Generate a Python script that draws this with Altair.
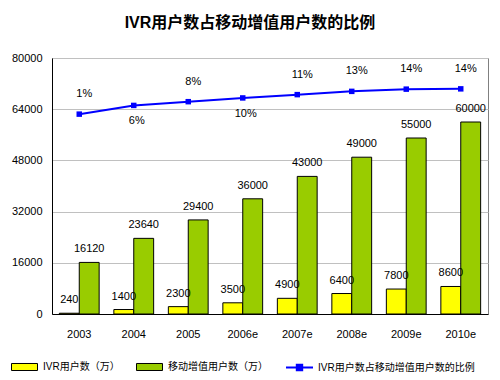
import altair as alt
import pandas as pd

years = ["2003", "2004", "2005", "2006e", "2007e", "2008e", "2009e", "2010e"]
ivr_users = [240, 1400, 2300, 3500, 4900, 6400, 7800, 8600]
mobile_users = [16120, 23640, 29400, 36000, 43000, 49000, 55000, 60000]
ivr_ratio = [0.0149, 0.0592, 0.0782, 0.0972, 0.114, 0.1306, 0.1418, 0.1433]
series_names = ["IVR用户数（万）", "移动增值用户数（万）"]
line_name = "IVR用户数占移动增值用户数的比例"
below_years = ["2004", "2006e"]
y_ticks = [0, 16000, 32000, 48000, 64000, 80000]

bars_df = pd.DataFrame({
    "year": years * 2,
    "series": [series_names[0]] * len(years) + [series_names[1]] * len(years),
    "value": ivr_users + mobile_users,
})
line_df = pd.DataFrame({"year": years, "ratio": ivr_ratio, "series": [line_name] * len(years)})

FONT = "Liberation Sans, Noto Sans CJK SC, sans-serif"

x_scale = alt.Scale(paddingInner=0.27, paddingOuter=0.135)
x_enc = alt.X(
    "year:N", sort=years, title=None, scale=x_scale,
    axis=alt.Axis(labelAngle=0, ticks=False, labelPadding=14, domainColor="black",
                  labelFontSize=11, labelColor="black", labelFont=FONT),
)
x_plain = alt.X("year:N", sort=years, title=None, scale=x_scale)

y_scale = alt.Scale(domain=[0, 80000], nice=False)
y_bar = alt.Y(
    "value:Q", title=None, scale=y_scale,
    axis=alt.Axis(values=y_ticks, ticks=False, labelPadding=10, gridColor="#C0C0C0",
                  domainColor="black", labelFontSize=11, labelColor="black",
                  format="d", labelFont=FONT),
)
y_bar_plain = alt.Y("value:Q", title=None, scale=y_scale)
x_off = alt.XOffset("series:N", sort=series_names, scale=alt.Scale(paddingInner=0, paddingOuter=0))

bars = alt.Chart(bars_df).mark_bar(stroke="black", strokeWidth=1).encode(
    x=x_enc,
    xOffset=x_off,
    y=y_bar,
    fill=alt.Fill(
        "series:N", sort=series_names,
        scale=alt.Scale(domain=series_names, range=["#FFFF00", "#99CC00"]),
        legend=alt.Legend(
            title=None, orient="none", legendX=-41, legendY=295, direction="horizontal",
            symbolType="M-1,-0.27H1V0.27H-1Z", symbolSize=676,
            symbolStrokeColor="black", symbolStrokeWidth=1,
            labelFontSize=10, labelOffset=5, columnPadding=14,
            labelFont=FONT, labelColor="black", padding=0,
        ),
    ),
)
bar_text = alt.Chart(bars_df).mark_text(dy=-13, baseline="middle", fontSize=11, font=FONT, color="black").encode(
    x=x_plain, xOffset=x_off, y=y_bar_plain, text=alt.Text("value:Q", format="d"),
)
left = alt.layer(bars, bar_text)

y_line = alt.Y("ratio:Q", title=None, scale=alt.Scale(domain=[-1, 0.3], nice=False, zero=False), axis=None)
line = alt.Chart(line_df).mark_line(strokeWidth=2).encode(
    x=x_plain, y=y_line,
    stroke=alt.Stroke(
        "series:N",
        scale=alt.Scale(domain=[line_name], range=["#0000FF"]),
        legend=alt.Legend(
            title=None, orient="none", legendX=233, legendY=295, direction="horizontal",
            symbolType="M-1,0H1M-0.2,-0.2H0.2V0.2H-0.2Z", symbolSize=729,
            symbolStrokeWidth=2, symbolFillColor="#0000FF",
            labelFontSize=10, labelOffset=4, labelFont=FONT, labelColor="black",
            padding=0, labelLimit=300,
        ),
    ),
)
points = alt.Chart(line_df).mark_point(shape="square", filled=True, size=30, color="#0000FF", opacity=1).encode(
    x=x_plain, y=y_line,
)
pct_above = alt.Chart(line_df).mark_text(dy=-20, dx=5, fontSize=11, font=FONT, color="black").encode(
    x=x_plain, y=y_line, text=alt.Text("ratio:Q", format=".0%"),
).transform_filter(~alt.FieldOneOfPredicate(field="year", oneOf=below_years))
pct_below = alt.Chart(line_df).mark_text(dy=16, dx=3, fontSize=11, font=FONT, color="black").encode(
    x=x_plain, y=y_line, text=alt.Text("ratio:Q", format=".0%"),
).transform_filter(alt.FieldOneOfPredicate(field="year", oneOf=below_years))
right = alt.layer(line, points, pct_above, pct_below)

chart = alt.layer(left, right).resolve_scale(y="independent").properties(
    width=436, height=256,
    autosize="none",
    padding={"left": 44, "top": 50, "right": 4, "bottom": 58},
    title=alt.TitleParams(
        text="IVR用户数占移动增值用户数的比例", fontSize=16, fontWeight="bold",
        font=FONT, color="black", anchor="middle", dx=-20, offset=21,
    ),
    background="white",
).configure_view(stroke="#808080", strokeWidth=1)

chart.save("out.html", embed_options={"renderer": "svg", "actions": False})
